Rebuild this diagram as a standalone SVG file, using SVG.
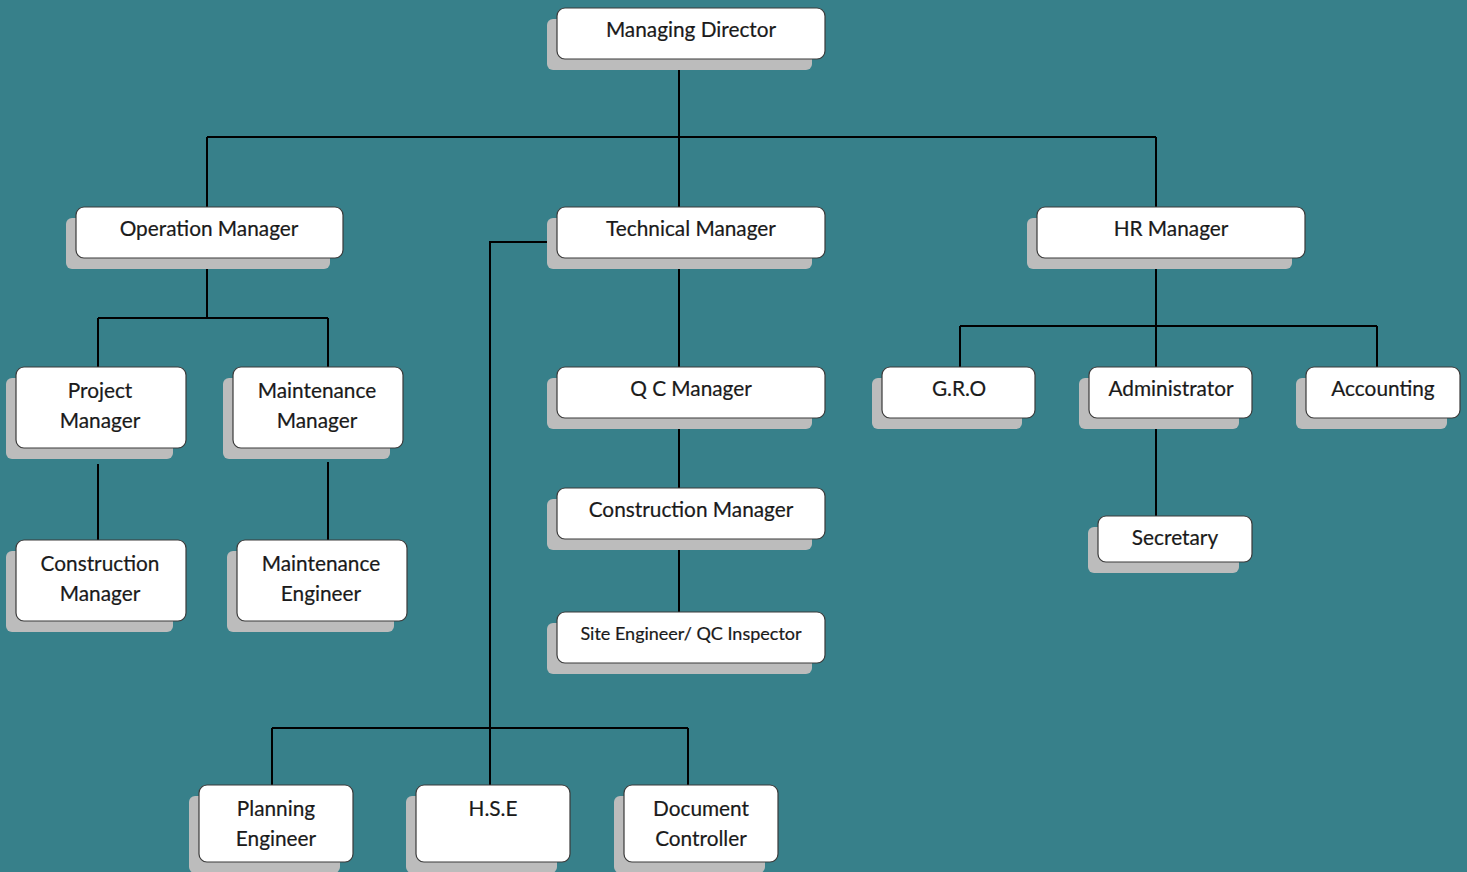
<svg xmlns="http://www.w3.org/2000/svg" width="1467" height="872" viewBox="0 0 1467 872">
<style>
.sh{fill:#bcbcbc}
.bx{fill:#ffffff;stroke:#3a3a3a;stroke-width:1.2}
.t{font-family:Lato,"Open Sans",sans-serif;font-size:20.8px;fill:#1a1a1a;text-anchor:middle;stroke:#1a1a1a;stroke-width:0.2}
.ts{font-family:Lato,"Open Sans",sans-serif;font-size:18px;fill:#1a1a1a;text-anchor:middle;stroke:#1a1a1a;stroke-width:0.2}
.c{stroke:#000;stroke-width:2;fill:none}
</style>
<rect width="1467" height="872" fill="#37808a"/>
<g id="connectors">
<path class="c" d="M679 59V137M207 137H1156M207 137V207M679 137V207M1156 137V207"/>
<path class="c" d="M207 258V318M98 318H328M98 318V367M328 318V367"/>
<path class="c" d="M98 464V540M328 462V540"/>
<path class="c" d="M679 258V367M679 418V488M679 539V612"/>
<path class="c" d="M557 242H490V728M272 728H688M272 728V785M490 728V785M688 728V785"/>
<path class="c" d="M1156 258V326M960 326H1377M960 326V367M1156 326V367M1377 326V367M1156 418V516"/>
</g>
<g id="n-md"><rect class="sh" x="547" y="19" width="265" height="51" rx="6"/><rect class="bx" x="557" y="8" width="268" height="51" rx="8"/><text class="t" x="691" y="37">Managing Director</text></g>
<g id="n-om"><rect class="sh" x="66" y="218" width="264" height="51" rx="6"/><rect class="bx" x="76" y="207" width="267" height="51" rx="8"/><text class="t" x="209" y="236">Operation Manager</text></g>
<g id="n-tm"><rect class="sh" x="547" y="218" width="265" height="51" rx="6"/><rect class="bx" x="557" y="207" width="268" height="51" rx="8"/><text class="t" x="691" y="236">Technical Manager</text></g>
<g id="n-hr"><rect class="sh" x="1027" y="218" width="265" height="51" rx="6"/><rect class="bx" x="1037" y="207" width="268" height="51" rx="8"/><text class="t" x="1171" y="236">HR Manager</text></g>
<g id="n-pm"><rect class="sh" x="6" y="378" width="167" height="81" rx="6"/><rect class="bx" x="16" y="367" width="170" height="81" rx="8"/><text class="t" x="100" y="398">Project</text><text class="t" x="100" y="428">Manager</text></g>
<g id="n-mm"><rect class="sh" x="223" y="378" width="167" height="81" rx="6"/><rect class="bx" x="233" y="367" width="170" height="81" rx="8"/><text class="t" x="317" y="398">Maintenance</text><text class="t" x="317" y="428">Manager</text></g>
<g id="n-cm1"><rect class="sh" x="6" y="551" width="167" height="81" rx="6"/><rect class="bx" x="16" y="540" width="170" height="81" rx="8"/><text class="t" x="100" y="571">Construction</text><text class="t" x="100" y="601">Manager</text></g>
<g id="n-me"><rect class="sh" x="227" y="551" width="167" height="81" rx="6"/><rect class="bx" x="237" y="540" width="170" height="81" rx="8"/><text class="t" x="321" y="571">Maintenance</text><text class="t" x="321" y="601">Engineer</text></g>
<g id="n-qc"><rect class="sh" x="547" y="378" width="265" height="51" rx="6"/><rect class="bx" x="557" y="367" width="268" height="51" rx="8"/><text class="t" x="691" y="396">Q C Manager</text></g>
<g id="n-cm2"><rect class="sh" x="547" y="499" width="265" height="51" rx="6"/><rect class="bx" x="557" y="488" width="268" height="51" rx="8"/><text class="t" x="691" y="517">Construction Manager</text></g>
<g id="n-se"><rect class="sh" x="547" y="623" width="265" height="51" rx="6"/><rect class="bx" x="557" y="612" width="268" height="51" rx="8"/><text class="ts" x="691" y="640">Site Engineer/ QC Inspector</text></g>
<g id="n-gro"><rect class="sh" x="872" y="378" width="150" height="51" rx="6"/><rect class="bx" x="882" y="367" width="153" height="51" rx="8"/><text class="t" x="959" y="396">G.R.O</text></g>
<g id="n-adm"><rect class="sh" x="1079" y="378" width="160" height="51" rx="6"/><rect class="bx" x="1089" y="367" width="163" height="51" rx="8"/><text class="t" x="1171" y="396">Administrator</text></g>
<g id="n-acc"><rect class="sh" x="1296" y="378" width="151" height="51" rx="6"/><rect class="bx" x="1306" y="367" width="154" height="51" rx="8"/><text class="t" x="1383" y="396">Accounting</text></g>
<g id="n-sec"><rect class="sh" x="1088" y="527" width="151" height="46" rx="6"/><rect class="bx" x="1098" y="516" width="154" height="46" rx="8"/><text class="t" x="1175" y="545">Secretary</text></g>
<g id="n-pe"><rect class="sh" x="189" y="796" width="151" height="77" rx="6"/><rect class="bx" x="199" y="785" width="154" height="77" rx="8"/><text class="t" x="276" y="816">Planning</text><text class="t" x="276" y="846">Engineer</text></g>
<g id="n-hse"><rect class="sh" x="406" y="796" width="151" height="77" rx="6"/><rect class="bx" x="416" y="785" width="154" height="77" rx="8"/><text class="t" x="493" y="816">H.S.E</text></g>
<g id="n-dc"><rect class="sh" x="614" y="796" width="151" height="77" rx="6"/><rect class="bx" x="624" y="785" width="154" height="77" rx="8"/><text class="t" x="701" y="816">Document</text><text class="t" x="701" y="846">Controller</text></g>
</svg>
